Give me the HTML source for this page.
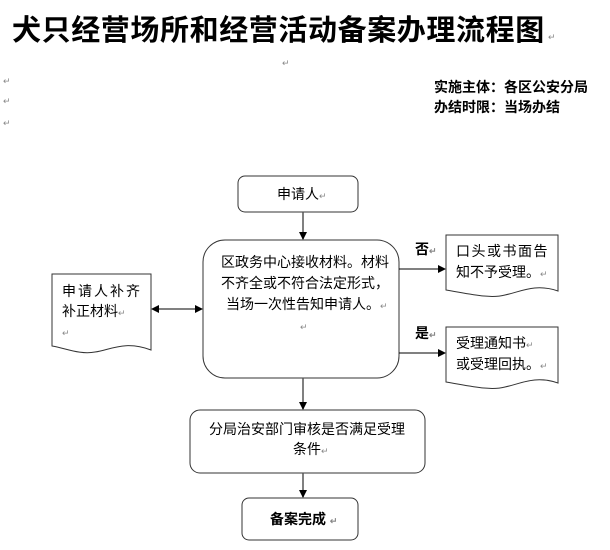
<!DOCTYPE html>
<html><head><meta charset="utf-8"><style>
body{margin:0;width:610px;height:550px;background:#fff;overflow:hidden;font-family:"Liberation Sans","Noto Sans CJK SC",sans-serif}
svg{position:absolute;left:0;top:0}
.t{font-family:"Liberation Sans","Noto Sans CJK SC",sans-serif;font-size:14px;fill:#000}
.r{font-size:9px;fill:#888}
</style></head><body>
<svg width="610" height="550" viewBox="0 0 610 550">
<defs><marker id="a" markerWidth="8" markerHeight="8" refX="7" refY="4" orient="auto-start-reverse" markerUnits="userSpaceOnUse"><path d="M0,0 L8,4 L0,8z" fill="#000"/></marker></defs>
<text x="12" y="40" style="font-family:'Liberation Sans','Noto Sans CJK SC',sans-serif;font-size:29px;font-weight:bold;letter-spacing:0.6px">犬只经营场所和经营活动备案办理流程图</text>
<text x="548" y="40" class="r">↵</text>
<text x="282" y="66" class="r">↵</text>
<text x="3" y="84" class="r">↵</text>
<text x="3" y="104" class="r">↵</text>
<text x="3" y="126" class="r">↵</text>
<text x="434" y="92" class="t" style="font-weight:bold">实施主体：各区公安分局</text>
<text x="434" y="112" class="t" style="font-weight:bold">办结时限：当场办结</text>

<g fill="none" stroke="#000" stroke-width="1">
<rect x="238" y="176" width="120" height="36" rx="7" fill="#fff" stroke="#333"/>
<line x1="303" y1="212" x2="303" y2="239" stroke="#555" stroke-width="1.5" marker-end="url(#a)"/>
<rect x="203" y="240" width="196" height="138" rx="22" fill="#fff" stroke="#333"/>
<line x1="152" y1="309" x2="202" y2="309" marker-start="url(#a)" marker-end="url(#a)"/>
<path d="M52,274 H151 V350 C125,340 110,350 95,352 C80,355 65,348 52,346 Z" fill="#fff" stroke="#333"/>
<line x1="399" y1="269" x2="445" y2="269" marker-end="url(#a)"/>
<line x1="399" y1="353" x2="445" y2="353" marker-end="url(#a)"/>
<path d="M446,235 H558 V291 C535,283 520,292 505,295 C490,299 470,294 446,290 Z" fill="#fff" stroke="#333"/>
<path d="M446,327 H558 V383 C535,375 520,384 505,387 C490,391 470,386 446,382 Z" fill="#fff" stroke="#333"/>
<line x1="303" y1="378" x2="303" y2="409" stroke="#555" stroke-width="1.5" marker-end="url(#a)"/>
<rect x="190" y="410" width="235" height="63" rx="10" fill="#fff" stroke="#333"/>
<line x1="303" y1="473" x2="303" y2="497" stroke="#555" stroke-width="1.5" marker-end="url(#a)"/>
<rect x="242" y="498" width="116" height="42" rx="7" fill="#fff" stroke="#333"/>
</g>

<text x="277" y="199" class="t">申请人<tspan class="r">↵</tspan></text>
<text x="221" y="267" class="t">区政务中心接收材料。材料</text>
<text x="221" y="288" class="t">不齐全或不符合法定形式，</text>
<text x="226" y="309" class="t">当场一次性告知申请人。<tspan class="r">↵</tspan></text>
<text x="300" y="330" class="r">↵</text>
<text x="62" y="296" class="t" style="letter-spacing:2px">申请人补齐</text>
<text x="62" y="316" class="t">补正材料<tspan class="r">↵</tspan></text>
<text x="62" y="336" class="r">↵</text>
<text x="415" y="254" class="t" style="font-weight:bold">否<tspan class="r">↵</tspan></text>
<text x="415" y="338" class="t" style="font-weight:bold">是<tspan class="r">↵</tspan></text>
<text x="456" y="256" class="t" style="letter-spacing:1.5px">口头或书面告</text>
<text x="456" y="277" class="t">知不予受理。<tspan class="r">↵</tspan></text>
<text x="456" y="348" class="t">受理通知书<tspan class="r">↵</tspan></text>
<text x="456" y="369" class="t">或受理回执。<tspan class="r">↵</tspan></text>
<text x="209" y="434" class="t">分局治安部门审核是否满足受理</text>
<text x="293" y="454" class="t">条件<tspan class="r">↵</tspan></text>
<text x="270" y="524" class="t" style="font-weight:bold">备案完成 <tspan class="r">↵</tspan></text>
</svg>
</body></html>
